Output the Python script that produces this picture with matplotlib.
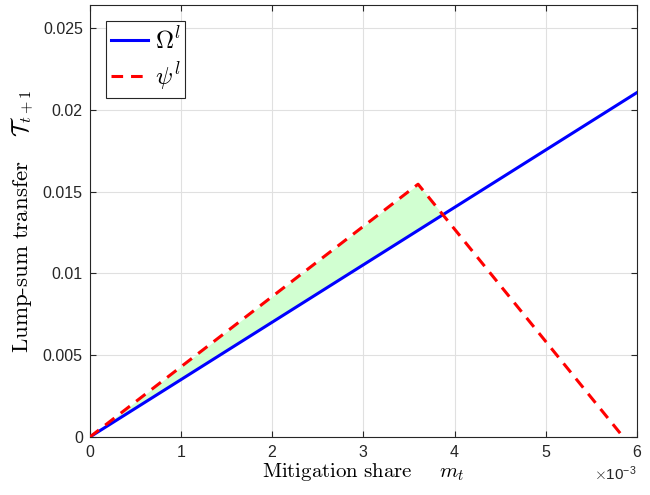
import numpy as np
import matplotlib.pyplot as plt
from matplotlib.ticker import FuncFormatter

plt.rcParams['mathtext.fontset'] = 'cm'
plt.rcParams['font.family'] = ['Liberation Sans', 'DejaVu Sans']

# Omega^l: straight line
m_omega = [0.0, 0.006]
omega = [0.0, 0.02105]

# psi^l: rises to a peak then falls
m_psi = [0.0, 0.0036, 0.00585]
psi = [0.0, 0.01545, 0.0]

fig = plt.figure(figsize=(6.5, 4.95), dpi=100)
ax = fig.add_axes([0.138, 0.117, 0.842, 0.873])

# shaded gap where psi lies above Omega
mg = np.linspace(0, m_psi[-1], 600)
pg = np.interp(mg, m_psi, psi)
og = np.interp(mg, m_omega, omega)
ax.fill_between(mg, og, pg, where=pg >= og, interpolate=True,
                color=(0.82, 1.0, 0.82), lw=0, zorder=1)

ax.plot(m_omega, omega, color='blue', lw=2.2, label=r'$\Omega^l$', zorder=3)
ax.plot(m_psi, psi, color='red', lw=2.2, ls=(0, (3.8, 2.6)), label=r'$\psi^l$', zorder=3)

ax.set_xlim(0, 0.006)
ax.set_ylim(0, 0.0264)
ax.set_xticks(np.arange(0, 0.0061, 0.001))
ax.set_yticks([0, 0.005, 0.01, 0.015, 0.02, 0.025])
ax.ticklabel_format(axis='x', style='sci', scilimits=(-3, -3), useMathText=True)
ax.yaxis.set_major_formatter(FuncFormatter(lambda v, p: '%g' % round(v, 4)))

ax.grid(True, color=(0.88, 0.88, 0.88), lw=0.8)
ax.set_axisbelow(True)
ax.tick_params(direction='in', top=True, right=True, labelsize=11.5,
               colors=(0.15, 0.15, 0.15), length=4, pad=5)
ax.xaxis.get_offset_text().set_fontsize(11)
ax.xaxis.get_offset_text().set_color((0.15, 0.15, 0.15))
for s in ax.spines.values():
    s.set_color((0.15, 0.15, 0.15))

ax.set_xlabel(r'$\mathrm{Mitigation\ share}\quad\;\;m_t$', fontsize=15, labelpad=1)
ax.set_ylabel(r'$\mathrm{Lump\text{-}sum\ transfer}\quad\;\mathcal{T}_{t+1}$', fontsize=16.5)
ax.yaxis.set_label_coords(-0.097, 0.5)

leg = ax.legend(loc='upper left', fontsize=18, handlelength=1.5, fancybox=False,
                edgecolor=(0.15, 0.15, 0.15), framealpha=1, borderaxespad=0.65,
                handletextpad=0.25, labelspacing=0.25, borderpad=0.2)
leg.get_frame().set_linewidth(0.8)

fig.savefig('out.png')
